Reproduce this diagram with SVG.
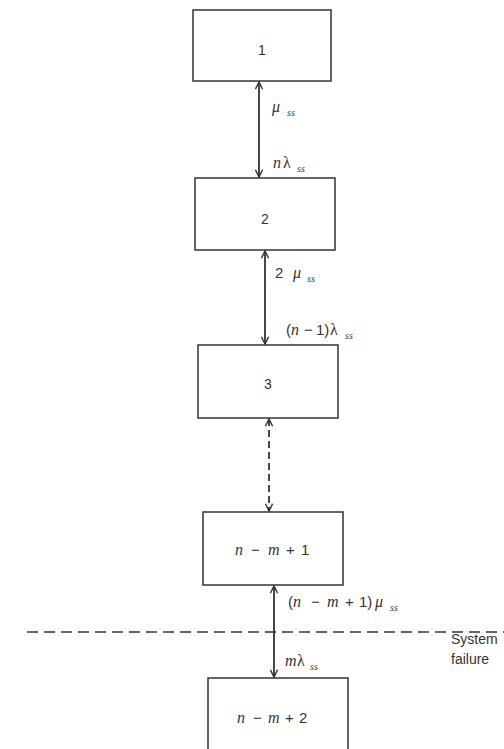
<svg xmlns="http://www.w3.org/2000/svg" width="504" height="749" viewBox="0 0 504 749">
<defs>
<marker id="ah" viewBox="0 0 10 10" refX="9" refY="5" markerWidth="9" markerHeight="9" markerUnits="userSpaceOnUse" orient="auto-start-reverse">
<path d="M1,1 L9,5 L1,9" fill="none" stroke="#333" stroke-width="1.6"/>
</marker>
</defs>
<style>
.box{fill:#fff;stroke:#333;stroke-width:1.5}
.num{font-family:"Liberation Sans",Arial,sans-serif;font-size:14px;fill:#333}
.lbl{font-family:"Liberation Sans",Arial,sans-serif;font-size:15px;fill:#333}
.v{font-family:"Liberation Serif","Times New Roman",serif;font-style:italic;font-size:16px}
.g{font-family:"Liberation Serif","Times New Roman",serif;font-size:16px}
.sub{font-family:"Liberation Serif","Times New Roman",serif;font-size:10px;font-style:italic}
.conn{stroke:#333;stroke-width:1.8;fill:none}
</style>
<rect width="504" height="749" fill="#fff"/>
<g id="node1"><rect class="box" x="193" y="10" width="138" height="71"/><text class="num" x="262" y="55" text-anchor="middle">1</text></g>
<g id="node2"><rect class="box" x="195" y="178" width="140" height="72"/><text class="num" x="265" y="224" text-anchor="middle">2</text></g>
<g id="node3"><rect class="box" x="198" y="345" width="140" height="73"/><text class="num" x="268" y="389" text-anchor="middle">3</text></g>
<g id="node4"><rect class="box" x="203" y="512" width="140" height="73"/><text class="lbl" y="555"><tspan class="v" x="235">n</tspan><tspan x="251">−</tspan><tspan class="v" x="268">m</tspan><tspan x="286">+</tspan><tspan x="301">1</tspan></text></g>
<g id="node5"><rect class="box" x="208" y="678" width="140" height="80"/><text class="lbl" y="723"><tspan class="v" x="237">n</tspan><tspan x="253">−</tspan><tspan class="v" x="268">m</tspan><tspan x="285">+</tspan><tspan x="299">2</tspan></text></g>
<g id="connectors">
<line class="conn" x1="259" y1="82" x2="259" y2="177" marker-start="url(#ah)" marker-end="url(#ah)"/>
<line class="conn" x1="265" y1="251" x2="265" y2="344" marker-start="url(#ah)" marker-end="url(#ah)"/>
<line class="conn" x1="269" y1="419" x2="269" y2="511" stroke-dasharray="7,4" marker-start="url(#ah)" marker-end="url(#ah)"/>
<line class="conn" x1="274" y1="586" x2="274" y2="677" marker-start="url(#ah)" marker-end="url(#ah)"/>
<line x1="27" y1="632" x2="504" y2="632" stroke="#333" stroke-width="1.5" stroke-dasharray="11,6"/>
</g>
<g id="labels">
<text class="lbl" y="112"><tspan class="v" x="272">μ</tspan><tspan class="sub" x="287" y="116">ss</tspan></text>
<text class="lbl" y="168"><tspan class="v" x="273">n</tspan><tspan class="g" x="283">λ</tspan><tspan class="sub" x="297" y="172">ss</tspan></text>
<text class="lbl" y="278"><tspan x="275">2</tspan><tspan class="v" x="293">μ</tspan><tspan class="sub" x="307" y="282">ss</tspan></text>
<text class="lbl" y="335"><tspan x="286">(</tspan><tspan class="v" x="291">n</tspan><tspan x="304">−</tspan><tspan x="316">1)</tspan><tspan class="g" x="330">λ</tspan><tspan class="sub" x="345" y="339">ss</tspan></text>
<text class="lbl" y="607"><tspan x="288">(</tspan><tspan class="v" x="293">n</tspan><tspan x="311">−</tspan><tspan class="v" x="327">m</tspan><tspan x="345">+</tspan><tspan x="359">1)</tspan><tspan class="v" x="375">μ</tspan><tspan class="sub" x="390" y="611">ss</tspan></text>
<text class="lbl" y="666"><tspan class="v" x="285">m</tspan><tspan class="g" x="297">λ</tspan><tspan class="sub" x="310" y="670">ss</tspan></text>
<text class="num" x="451" y="644" font-size="13">System</text>
<text class="num" x="451" y="664" font-size="13">failure</text>
</g>
</svg>
